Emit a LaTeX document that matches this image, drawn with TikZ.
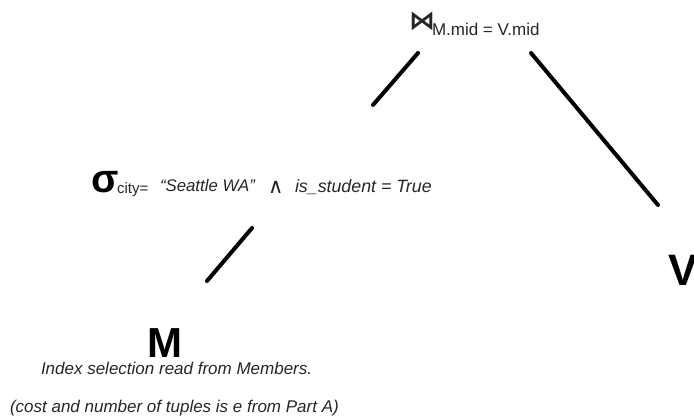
\documentclass[tikz,border=0pt]{standalone}
\usepackage{fontspec}
\setmainfont{Liberation Sans}
\newfontfamily\djv{DejaVu Sans}
\begin{document}
\begin{tikzpicture}[x=1pt,y=-1pt,
  lbl/.style={anchor=base west,inner sep=0pt,outer sep=0pt,text=black!85},
  big/.style={anchor=base west,inner sep=0pt,outer sep=0pt,font=\fontsize{42}{42}\selectfont\bfseries},
  edge/.style={line width=4pt,line cap=round,black}]
\useasboundingbox (0,0) rectangle (694,419);
% join
\node[lbl,font=\djv\fontsize{26}{26}\selectfont\bfseries] (join) at (409,30) {⋈};
\node[lbl,font=\fontsize{17}{17}\selectfont] (jcond) at (432,36) {M.mid = V.mid};
% selection
\node[lbl,font=\fontsize{40}{40}\selectfont\bfseries,text=black] (sigma) at (91,193) {σ};
\node[lbl,font=\fontsize{15}{15}\selectfont] (c1) at (117,194) {city=};
\node[lbl,font=\fontsize{16.8}{17}\selectfont\itshape] (c2) at (160,192) {“Seattle WA”};
\node[lbl,font=\djv\fontsize{21}{21}\selectfont] (c3) at (268,194) {∧};
\node[lbl,font=\fontsize{17.8}{18}\selectfont\itshape] (c4) at (295,193) {is\_student = True};
% leaves
\node[big] (M) at (147,358) {M};
\node[big,font=\fontsize{44}{44}\selectfont\bfseries] (V) at (668,286) {V};
\node[lbl,font=\fontsize{17}{17}\selectfont\itshape] (n1) at (41,375) {Index selection read from Members.};
\node[lbl,font=\fontsize{17}{17}\selectfont\itshape] (n2) at (10,413) {(cost and number of tuples is e from Part A)};
% connectors
\coordinate (a1) at (418,53); \coordinate (a2) at (373,105);
\coordinate (b1) at (531,53); \coordinate (b2) at (658,205);
\coordinate (d1) at (252,228); \coordinate (d2) at (207,281);
\draw[edge] (a1) -- (a2);
\draw[edge] (b1) -- (b2);
\draw[edge] (d1) -- (d2);
\end{tikzpicture}
\end{document}
